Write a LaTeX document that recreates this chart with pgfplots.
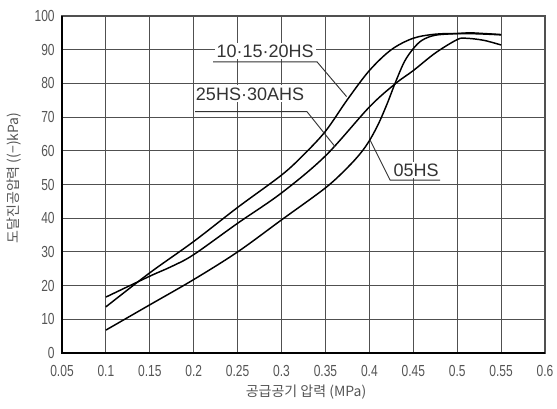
\documentclass[border=0pt]{standalone}
\usepackage{fontspec}
\setmainfont{Liberation Sans}
\newfontfamily\tickfont[FakeStretch=0.75]{Liberation Sans}
\newfontfamily\krfont{Noto Sans CJK KR}
\usepackage{pgfplots}
\pgfplotsset{compat=1.18}
\definecolor{gridc}{HTML}{505050}
\definecolor{txt}{HTML}{555555}
\definecolor{lbl}{HTML}{333333}

% 10.15.20HS
\pgfplotstableread{
x y
0.10 13.7
0.15 23.8
0.20 33.1
0.25 43.2
0.30 52.8
0.325 58.8
0.35 65.8
0.375 75.2
0.40 83.8
0.425 90.0
0.45 93.4
0.475 94.6
0.50 94.8
0.525 94.7
0.55 94.4
}\hsA

% 25HS.30AHS
\pgfplotstableread{
x y
0.10 16.6
0.15 22.8
0.175 25.7
0.20 29.2
0.25 38.5
0.30 47.5
0.35 58.5
0.40 73.0
0.43 80.0
0.45 83.8
0.475 89.0
0.50 93.0
0.51 93.4
0.53 92.8
0.55 91.4
}\hsB

% 05HS
\pgfplotstableread{
x y
0.10 6.8
0.15 14.3
0.20 21.8
0.25 30.0
0.30 39.5
0.35 49.0
0.375 55.0
0.39 59.3
0.40 63.0
0.41 67.8
0.42 73.8
0.43 80.5
0.44 86.5
0.45 90.3
0.46 92.8
0.475 94.3
0.50 94.8
0.515 95.0
0.53 94.8
0.55 94.5
}\hsC

\begin{document}
\begin{tikzpicture}
\path[use as bounding box] (-46.5pt,-41.25pt) rectangle (371.25pt,264.75pt);
\begin{axis}[
  at={(0,0)}, anchor=south west,
  scale only axis, width=362.25pt, height=252.75pt,
  xmin=0.05, xmax=0.6, ymin=0, ymax=100,
  xtick={0.05,0.1,0.15,0.2,0.25,0.3,0.35,0.4,0.45,0.5,0.55,0.6},
  xticklabels={0.05,0.1,0.15,0.2,0.25,0.3,0.35,0.4,0.45,0.5,0.55,0.6},
  ytick={0,10,20,30,40,50,60,70,80,90,100},
  yticklabels={0,10,20,30,40,50,60,70,80,90,100},
  grid=major, grid style={gridc, line width=0.8pt},
  axis line style={gridc, line width=0.8pt},
  major tick length=0pt,
  tick label style={font=\tickfont\fontsize{12}{12}\selectfont, text=txt},
  xticklabel style={yshift=-6pt},
  yticklabel style={xshift=-2pt},
  clip=false,
]
\addplot[black, line width=1.1pt, smooth, tension=0.55] table {\hsA};
\addplot[black, line width=1.1pt, smooth, tension=0.55] table {\hsB};
\addplot[black, line width=1.1pt, smooth, tension=0.55] table {\hsC};

% labels with leaders
\node[fill=white, inner sep=1.5pt, text=lbl, font=\fontsize{13.5}{14}\selectfont] at (axis cs:0.2812,89.6) {10·15·20HS};
\draw[lbl, line width=0.7pt] (axis cs:0.222,86.4) -- (axis cs:0.3404,86.4) -- (axis cs:0.374,76.1);
\node[fill=white, inner sep=1.5pt, text=lbl, font=\fontsize{13.5}{14}\selectfont] at (axis cs:0.2641,76.9) {25HS·30AHS};
\draw[lbl, line width=0.7pt] (axis cs:0.2015,71.6) -- (axis cs:0.329,71.6) -- (axis cs:0.361,61.2);
\node[fill=white, inner sep=1.5pt, text=lbl, font=\fontsize{13.5}{14}\selectfont] at (axis cs:0.4532,54.3) {05HS};
\draw[lbl, line width=0.7pt] (axis cs:0.4805,51.3) -- (axis cs:0.4236,51.3) -- (axis cs:0.4008,63.2);
\end{axis}
\draw[black, line width=1.6pt] (0,252.75pt) -- (0,0) -- (362.25pt,0);
\node[text=txt, font=\krfont\fontsize{10.5}{11}\selectfont] at (183pt,-29.25pt) {공급공기 압력 (MPa)};
\node[text=txt, rotate=90, font=\krfont\fontsize{10.5}{11}\selectfont] at (-36pt,131.25pt) {도달진공압력 ((−)kPa)};
\end{tikzpicture}
\end{document}
